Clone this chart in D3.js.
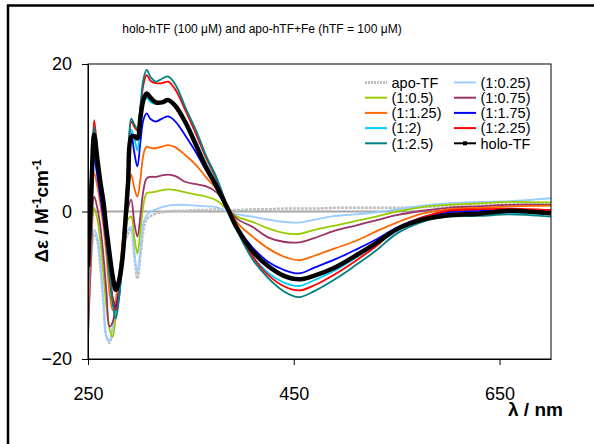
<!DOCTYPE html>
<html><head><meta charset="utf-8">
<script src="https://cdn.jsdelivr.net/npm/d3@7"></script>
<style>
html,body{margin:0;padding:0;background:#fff;}
text{font-family:"Liberation Sans",Arial,sans-serif;}
</style></head>
<body>
<script>
// ---- data ----
const wavelengths = [250,253,256,259,262,265,268,271,274,277,280,283,286,289,292,295,298,301,304,307,311,316,322,328,335,345,355,365,375,385,395,410,425,440,455,470,490,510,530,550,575,600,630,660,700];
const apoTF   = [-12,-6,-3,-4,-7.5,-12.5,-17,-17.8,-16,-12.5,-9,-6,-4,-3,-2.5,-6,-9.1,-6,-2.5,-1.1,-0.6,-0.3,-0.1,0,0.1,0.1,0.2,0.2,0.3,0.2,0.2,0.3,0.3,0.4,0.4,0.4,0.5,0.5,0.5,0.5,0.6,0.7,0.8,1.0,1.2];
const r1_025  = [-17.5,-7,-2.5,-3.5,-7,-12,-17,-17.5,-15.5,-12,-8.5,-5.5,-3.5,-2.5,-2.1,-5.5,-8.2,-5,-1.5,-0.5,0,0.3,0.6,0.8,0.9,0.9,0.8,0.7,0.6,0,-0.4,-0.7,-1.1,-1.4,-1.5,-1.1,-0.6,-0.4,-0.1,0.3,0.8,1.1,1.3,1.4,1.8];
const r1_05   = [-13,-4,0.5,-1,-4,-8.5,-13,-16,-17,-14,-9.5,-5.5,-3,-1,-0.7,-3.5,-5.7,-2.5,1,2.5,2.6,2.7,2.9,3,2.9,2.6,2.3,2,1.5,0.3,-0.7,-1.4,-2.3,-2.9,-3.05,-2.5,-1.9,-1.3,-0.7,0,0.6,0.9,1.1,1.3,1.2];
const r1_075  = [-17,-6,2,0.5,-2,-6,-11,-15.6,-15,-12.5,-9.5,-6,-2.5,0.5,1.6,-1.5,-3.4,-0.5,3,4.5,4.7,4.7,4.9,5,4.8,4,3.7,3.4,2.6,0.6,-1,-2.1,-3.5,-4.1,-4.2,-3.6,-2.6,-1.9,-1.2,-0.5,0.1,0.5,0.7,0.9,0.9];
const r1_125  = [-14,-4,5.2,3.5,1,-2,-6,-11,-13.4,-12,-9,-5,-0.5,3,5,3.2,2,4.5,7.8,8.8,8.6,8.6,8.8,9,8.7,7.6,6.3,4.6,3,0.9,-1.5,-3.4,-5,-6.1,-6.6,-6,-5,-4,-2.7,-1.5,-0.3,0.3,0.5,0.7,0.8];
const r1_175  = [-10,-1,7.2,4.8,2,-1,-4.5,-8.5,-11.8,-12.9,-11,-7,-1.5,5,10.6,8,6.1,9.5,12.5,13.3,12.5,12.2,12.6,12.9,12.2,10.2,8,5.5,3.5,0.6,-2.1,-4.9,-6.8,-7.9,-8.4,-7.6,-6.5,-5.2,-3.8,-2.2,-0.8,-0.1,0.1,0.2,0];
const r1_2    = [-11,1,11,7.5,3.8,0.2,-3.8,-8,-12,-13.8,-11.8,-7.5,-1.5,5,11.1,10,8.3,12,14.8,15.4,14.8,14.6,14.8,15,14.2,12.2,9.5,6.5,4,0.7,-2.5,-6.1,-8.3,-9.6,-10.1,-9.3,-8,-6.3,-4.5,-2.6,-1.2,-0.5,-0.3,-0.2,-0.4];
const r1_225  = [-9,3,12.4,8.2,4,0.5,-3.5,-8,-11.8,-13.4,-11.5,-7,-1,6,12.2,11.5,11,14,17.3,18.5,17.7,17.4,17.4,17.6,16.5,13.6,10.5,7.2,4.4,0.8,-2.5,-6.1,-8.6,-10.1,-10.7,-10,-8.5,-6.7,-4.7,-2.4,-0.8,0.1,0.3,0.4,0.2];
const r1_25   = [-5,5,11.5,7.5,3.5,0,-4,-8.5,-12.5,-14.5,-12,-7.5,-1,6.5,12.6,11.8,11.2,14.5,18,19.2,18.2,17.6,18,18.3,17.2,14,11,7.5,4.6,0.8,-2.6,-6.5,-9,-10.8,-11.6,-10.8,-9.2,-7.3,-5.3,-3,-1.4,-0.7,-0.6,-0.4,-0.7];
const holoTF  = [-7.5,2,10.4,7.2,4,1.3,-2.5,-5.8,-8.8,-10.6,-9.5,-7,-2,4,10.1,10.2,9.9,12.8,15.2,16,15.4,14.8,14.8,15.1,14.3,12,9,5.9,3.4,0.6,-2.3,-5.4,-7.4,-8.7,-9.2,-8.7,-7.6,-6,-4.3,-2.4,-1.1,-0.5,-0.3,0.1,-0.25];

const seriesNames  = ["apo-TF","(1:0.25)","(1:0.5)","(1:0.75)","(1:1.25)","(1:1.75)","(1:2)","(1:2.25)","(1:2.5)","holo-TF"];
const seriesValues = [apoTF,r1_025,r1_05,r1_075,r1_125,r1_175,r1_2,r1_225,r1_25,holoTF];
const seriesColors = ["#c0c0c0","#99ccff","#99cc00","#993366","#ff6600","#0000ff","#00ccff","#ff0000","#008080","#000000"];
const xTicks = [250,450,650];
const yTicks = [-20,0,20];
const titleText = "holo-hTF (100 \u03bcM) and apo-hTF+Fe (hTF = 100 \u03bcM)";

// ---- drawing ----
const W = 594, H = 444;
const svg = d3.select("body").append("svg").attr("width", W).attr("height", H);
svg.append("rect").attr("width", W).attr("height", H).attr("fill", "#fff");
svg.append("rect").attr("x", 8).attr("y", 5.5).attr("width", 700).attr("height", 600)
  .attr("fill", "none").attr("stroke", "#000").attr("stroke-width", 2.5);

const L = 88, R = 551, T = 64, B = 359;
const x = d3.scaleLinear().domain([250, 700]).range([L, R]);
const y = d3.scaleLinear().domain([-20, 20]).range([B, T]);

svg.append("text").attr("x", 262).attr("y", 33).attr("text-anchor", "middle")
  .attr("font-size", 12).text(titleText);

svg.append("defs").append("clipPath").attr("id", "clip")
  .append("rect").attr("x", L).attr("y", T).attr("width", R - L).attr("height", B - T);

// zero line
svg.append("line").attr("x1", L).attr("x2", R).attr("y1", y(0)).attr("y2", y(0))
  .attr("stroke", "#a8a8a8").attr("stroke-width", 2);

const line = d3.line().x((d, i) => x(wavelengths[i])).y(d => y(d)).curve(d3.curveCatmullRom.alpha(0.5));
const g = svg.append("g").attr("clip-path", "url(#clip)");
seriesValues.forEach((vals, k) => {
  const p = g.append("path").attr("d", line(vals)).attr("fill", "none")
    .attr("stroke", seriesColors[k]).attr("stroke-linejoin", "round");
  if (k === 0) p.attr("stroke-width", 2.5).attr("stroke-dasharray", "3,1");
  else if (k === seriesValues.length - 1) p.attr("stroke-width", 4.5);
  else p.attr("stroke-width", 1.8);
});

// plot border
svg.append("rect").attr("x", L).attr("y", T).attr("width", R - L).attr("height", B - T)
  .attr("fill", "none").attr("stroke", "#000").attr("stroke-width", 1);

const xAxis = svg.append("g").attr("transform", `translate(0,${B})`)
  .call(d3.axisBottom(x).tickValues(xTicks).tickSize(6).tickSizeOuter(0).tickPadding(22).tickFormat(d3.format("d")));
const yAxis = svg.append("g").attr("transform", `translate(${L},0)`)
  .call(d3.axisLeft(y).tickValues(yTicks).tickSize(6).tickSizeOuter(0).tickPadding(10).tickFormat(d3.format("d")));
[xAxis, yAxis].forEach(a => {
  a.selectAll("text").attr("font-size", 18).attr("fill", "#000")
    .attr("font-family", "Liberation Sans, Arial, sans-serif");
  a.selectAll("line").attr("stroke", "#000");
  a.select(".domain").attr("stroke", "#000");
});

// axis titles
svg.append("text").attr("x", 508).attr("y", 416).attr("font-size", 19).attr("font-weight", "bold")
  .text("\u03bb / nm");
const yl = svg.append("text").attr("transform", "translate(48,211) rotate(-90)")
  .attr("text-anchor", "middle").attr("font-size", 19).attr("font-weight", "bold");
yl.append("tspan").text("\u0394\u03b5 / M");
yl.append("tspan").attr("font-size", 12).attr("baseline-shift", "super").text("-1");
yl.append("tspan").text("cm");
yl.append("tspan").attr("font-size", 12).attr("baseline-shift", "super").text("-1");

// legend
const leg = svg.append("g");
seriesNames.forEach((name, k) => {
  const col = k % 2, row = Math.floor(k / 2);
  const lx = col === 0 ? 365 : 454, ty = 82.5 + row * 15.2;
  const ln = leg.append("line").attr("x1", lx).attr("x2", lx + 22).attr("y1", ty).attr("y2", ty)
    .attr("stroke", seriesColors[k]).attr("stroke-width", 2);
  if (k === 0) ln.attr("stroke-width", 3).attr("stroke-dasharray", "2,1");
  if (k === seriesNames.length - 1) {
    leg.append("rect").attr("x", lx + 9).attr("y", ty - 2).attr("width", 4).attr("height", 4).attr("fill", "#000");
  }
  leg.append("text").attr("x", lx + 26.5).attr("y", ty).attr("dy", "0.36em")
    .attr("font-size", 14.5).text(name);
});
</script>
</body></html>
